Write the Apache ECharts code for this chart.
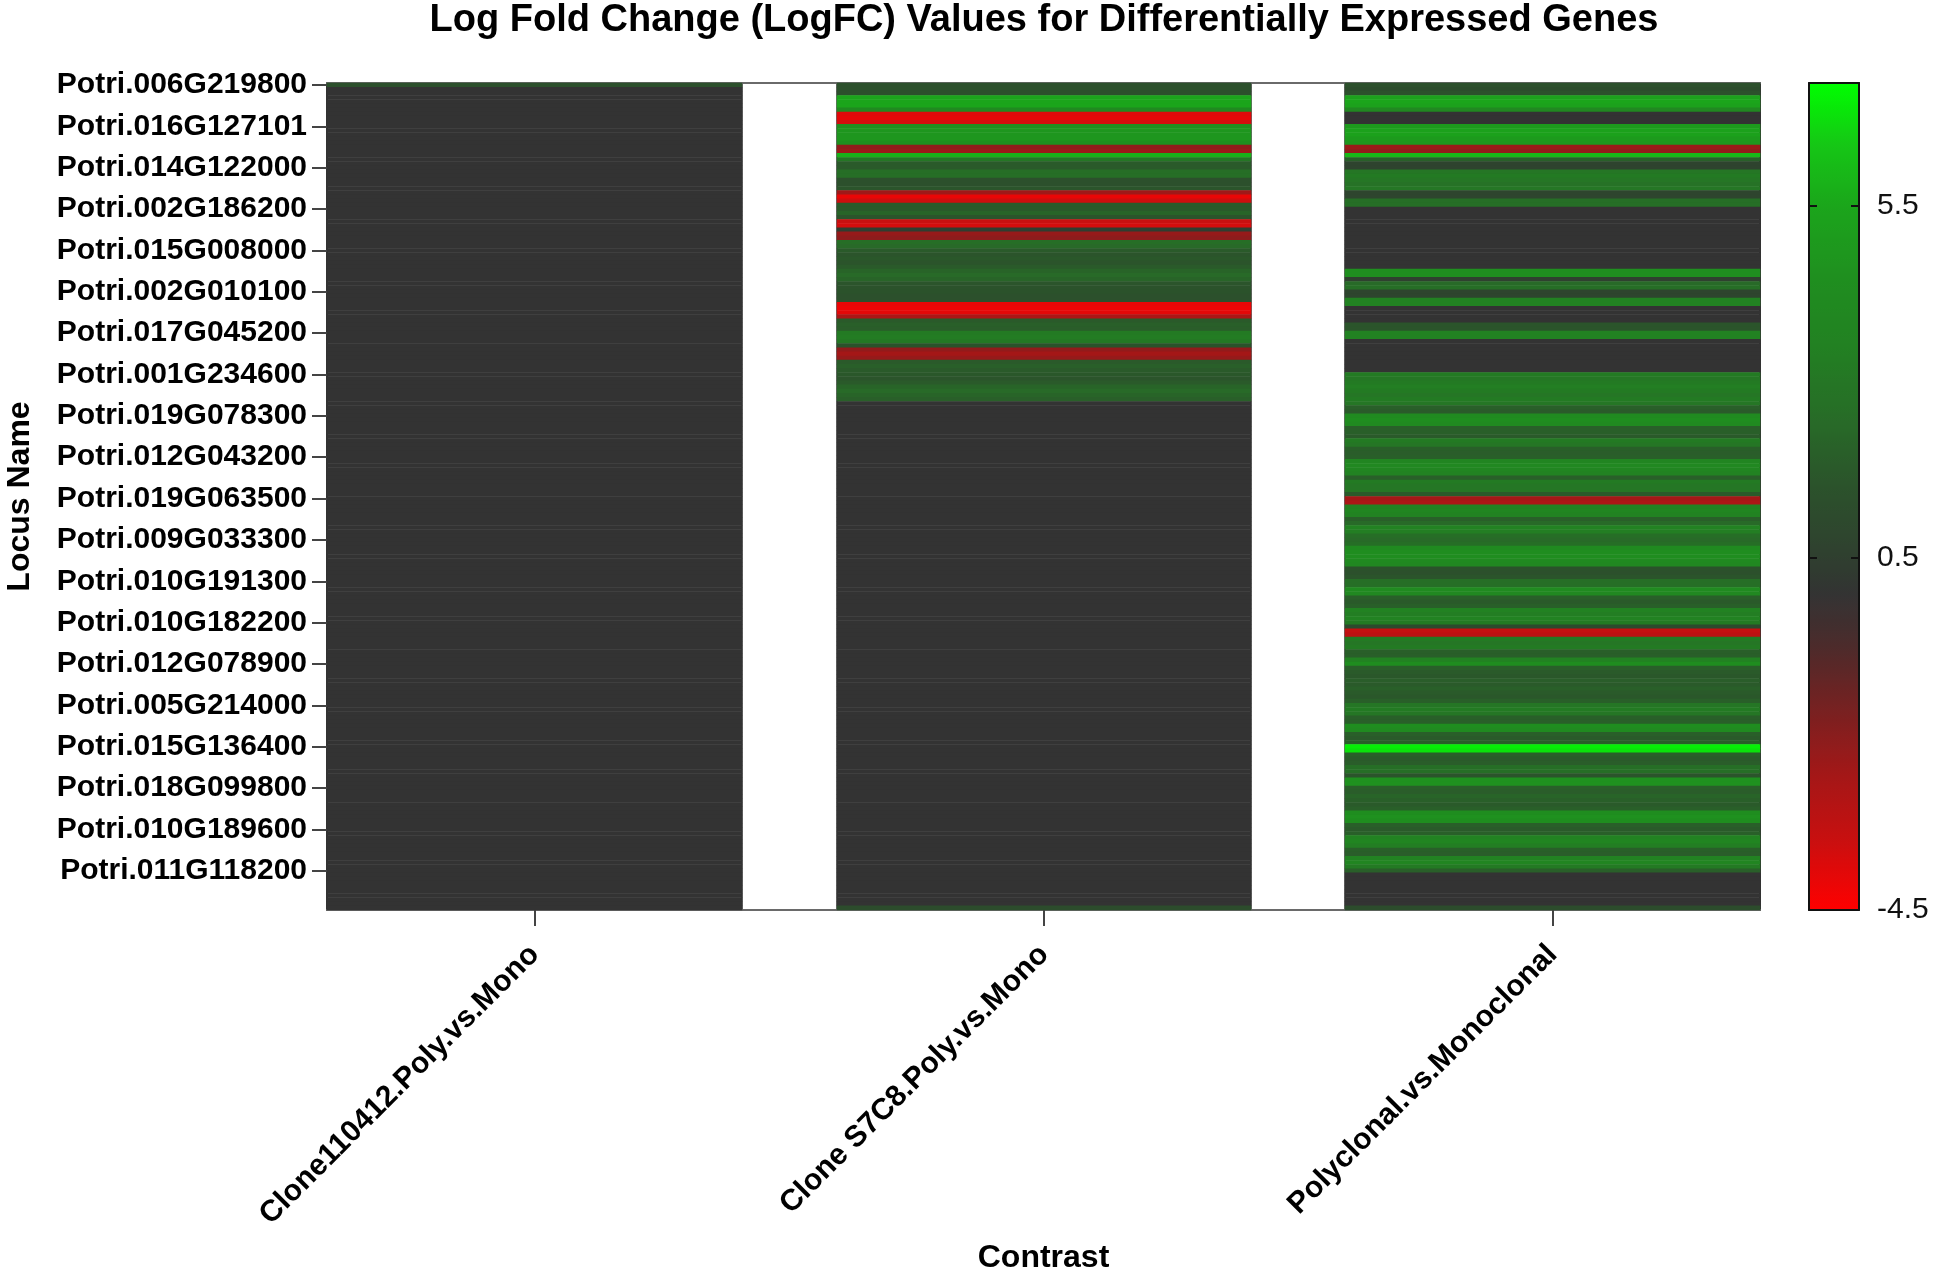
<!DOCTYPE html>
<html>
<head>
<meta charset="utf-8">
<title>LogFC heatmap</title>
<script src="https://cdn.jsdelivr.net/npm/echarts@6/dist/echarts.min.js"></script>
<style>
  html, body { margin: 0; padding: 0; background: #fff; }
  #chart { width: 1939px; height: 1279px; }
</style>
</head>
<body>
<div id="chart"></div>
<script>
// x categories (contrasts)
var contrasts = ['Clone110412.Poly.vs.Mono', 'Clone S7C8.Poly.vs.Mono', 'Polyclonal.vs.Monoclonal'];

// locus names shown on the axis, one every 10 rows (200 rows in total)
var locusLabels = [
  'Potri.006G219800', 'Potri.016G127101', 'Potri.014G122000', 'Potri.002G186200',
  'Potri.015G008000', 'Potri.002G010100', 'Potri.017G045200', 'Potri.001G234600',
  'Potri.019G078300', 'Potri.012G043200', 'Potri.019G063500', 'Potri.009G033300',
  'Potri.010G191300', 'Potri.010G182200', 'Potri.012G078900', 'Potri.005G214000',
  'Potri.015G136400', 'Potri.018G099800', 'Potri.010G189600', 'Potri.011G118200'
];
var rowsPerLabel = 10;

// logFC per row, one array per contrast (row 0 at the top)
var logfcClone110412 = [
  1.4, 0, 0, 0, 0, 0, 0, 0, 0, 0, 0, 0, 0, 0, 0, 0, 0, 0, 0, 0,
  0, 0, 0, 0, 0, 0, 0, 0, 0, 0, 0, 0, 0, 0, 0, 0, 0, 0, 0, 0,
  0, 0, 0, 0, 0, 0, 0, 0, 0, 0, 0, 0, 0, 0, 0, 0, 0, 0, 0, 0,
  0, 0, 0, 0, 0, 0, 0, 0, 0, 0, 0, 0, 0, 0, 0, 0, 0, 0, 0, 0,
  0, 0, 0, 0, 0, 0, 0, 0, 0, 0, 0, 0, 0, 0, 0, 0, 0, 0, 0, 0,
  0, 0, 0, 0, 0, 0, 0, 0, 0, 0, 0, 0, 0, 0, 0, 0, 0, 0, 0, 0,
  0, 0, 0, 0, 0, 0, 0, 0, 0, 0, 0, 0, 0, 0, 0, 0, 0, 0, 0, 0,
  0, 0, 0, 0, 0, 0, 0, 0, 0, 0, 0, 0, 0, 0, 0, 0, 0, 0, 0, 0,
  0, 0, 0, 0, 0, 0, 0, 0, 0, 0, 0, 0, 0, 0, 0, 0, 0, 0, 0, 0,
  0, 0, 0, 0, 0, 0, 0, 0, 0, 0, 0, 0, 0, 0, 0, 0, 0, 0, 0, 0
];
var logfcCloneS7C8 = [
  1.4, 1.4, 1.4, 5.5, 5.5, 5.5, 4.2, -3.9, -4.0, -3.7, 4.5, 4.8, 4.8, 4.8, 4.5, -2.2, -2.4, 5.8, 3.0, 1.8,
  1.8, 2.6, 2.6, 1.4, 1.4, 1.6, -2.5, -4.1, -3.6, 1.8, 1.8, 2.2, 1.6, -3.5, -3.7, 0.4, -2.3, -2.1, 2.6, 2.4,
  1.8, 1.6, 1.7, 1.6, 1.8, 2.2, 2.4, 2.2, 1.6, 1.5, 1.5, 1.4, 1.4, -4.1, -4.2, -4.0, -2.8, 1.8, 2.0, 1.9,
  3.2, 3.3, 3.1, 1.5, -2.2, -2.6, -2.3, 1.8, 2.0, 1.8, 1.7, 1.6, 1.8, 2.2, 2.4, 2.2, 2.0, 0, 0, 0,
  0, 0, 0, 0, 0, 0, 0, 0, 0, 0, 0, 0, 0, 0, 0, 0, 0, 0, 0, 0,
  0, 0, 0, 0, 0, 0, 0, 0, 0, 0, 0, 0, 0, 0, 0, 0, 0, 0, 0, 0,
  0, 0, 0, 0, 0, 0, 0, 0, 0, 0, 0, 0, 0, 0, 0, 0, 0, 0, 0, 0,
  0, 0, 0, 0, 0, 0, 0, 0, 0, 0, 0, 0, 0, 0, 0, 0, 0, 0, 0, 0,
  0, 0, 0, 0, 0, 0, 0, 0, 0, 0, 0, 0, 0, 0, 0, 0, 0, 0, 0, 0,
  0, 0, 0, 0, 0, 0, 0, 0, 0, 0, 0, 0, 0, 0, 0, 0, 0, 0, 0, 1.2
];
var logfcPolyMono = [
  1.4, 1.2, 1.4, 5.3, 5.5, 5.3, 4.0, 0, 0, 0, 5.0, 5.3, 5.3, 5.0, 4.8, -2.4, -2.2, 6.0, 2.0, 0.7,
  0.7, 3.0, 3.2, 3.0, 2.8, 3.0, 0.8, 0.8, 2.6, 2.6, 0, 0, 0, 0, 0, 0, 0, 0, 0, 0,
  0, 0, 0, 0, 0, 4.5, 4.5, 0.6, 2.4, 2.6, 0.8, 0.8, 3.6, 3.6, 0, 0, 0, 0, 1.6, 1.6,
  3.6, 3.6, 0, 0, 0, 0, 0, 0, 0, 0, 3.2, 3.0, 3.2, 3.4, 3.2, 3.0, 3.2, 3.0, 2.0, 1.8,
  4.2, 4.4, 4.2, 2.0, 2.0, 1.8, 3.2, 3.0, 2.0, 1.9, 2.0, 3.8, 4.0, 3.8, 3.6, 2.0, 3.2, 3.0, 3.0, 1.8,
  -2.6, -2.8, 3.6, 3.8, 3.6, 2.0, 2.4, 3.6, 3.4, 2.6, 2.4, 2.6, 4.2, 4.4, 4.4, 4.2, 4.0, 1.5, 1.4, 1.6,
  2.6, 2.6, 4.2, 4.0, 2.0, 1.8, 2.0, 3.6, 3.4, 3.6, 3.2, 1.0, -3.4, -3.2, 3.2, 3.0, 3.2, 2.0, 2.0, 3.6,
  4.4, 2.0, 1.8, 1.7, 1.9, 1.8, 2.0, 1.8, 1.7, 2.0, 3.0, 3.2, 3.0, 2.0, 2.0, 4.4, 4.2, 2.0, 1.8, 2.0,
  7.0, 6.8, 2.0, 1.8, 1.9, 2.6, 2.6, 1.6, 4.6, 4.6, 2.0, 1.9, 2.2, 2.0, 1.8, 2.0, 4.4, 4.6, 4.4, 2.0,
  1.8, 2.0, 3.6, 3.8, 3.4, 2.0, 1.9, 3.6, 3.8, 3.2, 2.0, 0, 0, 0, 0, 0, 0, 0, 0, 1.2
];

// colour scale
var scaleMin = -4.5;
var scaleMax = 7.25;
var scaleTicks = 5;

var colorStops = [
  [-4.5, '#ff0000'], [-3.5, '#c81010'], [-2.5, '#a01818'], [-1.5, '#702222'],
  [-0.7, '#4a2c2c'], [0, '#333333'], [0.5, '#2f3f2f'], [1.5, '#2b522b'],
  [2.5, '#276c27'], [3.5, '#228022'], [4.5, '#1f8f1f'], [5.5, '#1ba51b'],
  [6.4, '#15c815'], [7.25, '#00ff00']
];

function hexToRgb(h) {
  return [parseInt(h.substr(1, 2), 16), parseInt(h.substr(3, 2), 16), parseInt(h.substr(5, 2), 16)];
}
function colorAt(v) {
  for (var i = 0; i < colorStops.length - 1; i++) {
    var a = colorStops[i], b = colorStops[i + 1];
    if (v <= b[0]) {
      var t = (v - a[0]) / (b[0] - a[0]);
      var ca = hexToRgb(a[1]), cb = hexToRgb(b[1]);
      return 'rgb(' + [0, 1, 2].map(function (k) { return Math.round(ca[k] + (cb[k] - ca[k]) * t); }).join(',') + ')';
    }
  }
  return colorStops[colorStops.length - 1][1];
}
var rampColors = [];
for (var s = 0; s <= 94; s++) {
  rampColors.push(colorAt(scaleMin + (scaleMax - scaleMin) * s / 94));
}

var nRows = logfcPolyMono.length;
var loci = [];
for (var r = 0; r < nRows; r++) {
  loci.push(r % rowsPerLabel === 0 ? locusLabels[r / rowsPerLabel] : '');
}
var showRow = function (idx) { return idx % rowsPerLabel === 0; };

var columns = [logfcClone110412, logfcCloneS7C8, logfcPolyMono];
function toCells(vals) {
  return vals.map(function (v, i) { return [0, i, v]; });
}

var FONT = '"Liberation Sans", Arial, sans-serif';
var LINE = '#6a6a6a';

var plotTop = 83, plotH = 827;
var colLeft = [327, 837, 1345], colW = [415, 414, 415];

var chart = echarts.init(document.getElementById('chart'));

var grids = [], xAxes = [], yAxes = [], series = [];
function makeGrid(left, width) {
  return { left: left, top: plotTop, width: width, height: plotH, containLabel: false, outerBoundsMode: 'none' };
}

columns.forEach(function (vals, c) {
  grids.push(makeGrid(colLeft[c], colW[c]));
  xAxes.push({
    type: 'category', gridIndex: c, data: [contrasts[c]],
    axisLine: { show: false },
    axisTick: { show: true, alignWithLabel: true, length: 16, lineStyle: { color: '#444', width: 2 } },
    axisLabel: { rotate: 45, margin: 40, fontSize: 30, fontWeight: 'bold', color: '#000', fontFamily: FONT }
  });
  yAxes.push({
    type: 'category', gridIndex: c, data: loci, inverse: true,
    name: c === 0 ? 'Locus Name' : '',
    nameLocation: 'middle', nameGap: 291, nameRotate: 90, nameMoveOverlap: false,
    nameTextStyle: { fontSize: 32, fontWeight: 'bold', color: '#000', fontFamily: FONT },
    axisLine: { show: true, lineStyle: { color: c === 0 ? '#333' : LINE, width: 2 } },
    axisTick: { show: c === 0, interval: showRow, alignWithLabel: true, length: 15, lineStyle: { color: '#444', width: 2 } },
    axisLabel: { show: c === 0, interval: showRow, margin: 20, fontSize: 30, fontWeight: 'bold', color: '#000', fontFamily: FONT },
    splitLine: { show: false }
  });
  series.push({
    type: 'heatmap', xAxisIndex: c, yAxisIndex: c,
    data: toCells(vals),
    emphasis: { disabled: true }
  });
});

// right edges of the three columns
columns.forEach(function (vals, c) {
  yAxes.push({
    type: 'value', gridIndex: c, position: 'right', min: 0, max: 1,
    axisLine: { show: true, onZero: false, lineStyle: { color: c === 2 ? '#333' : LINE, width: 2 } },
    axisTick: { show: false }, axisLabel: { show: false }, splitLine: { show: false }
  });
});

// frame across all columns (top & bottom lines, "Contrast" title)
grids.push(makeGrid(327, 1433));
var frameAxis = function (pos, name) {
  return {
    type: 'value', gridIndex: 3, position: pos, min: 0, max: 1,
    name: name, nameLocation: 'middle', nameGap: 332, nameMoveOverlap: false,
    nameTextStyle: { fontSize: 32, fontWeight: 'bold', color: '#000', fontFamily: FONT },
    axisLine: { show: true, onZero: false, lineStyle: { color: LINE, width: 2 } },
    axisTick: { show: false }, axisLabel: { show: false }, splitLine: { show: false }
  };
};
xAxes.push(frameAxis('bottom', 'Contrast'));
xAxes.push(frameAxis('top', ''));
yAxes.push({ type: 'value', gridIndex: 3, show: false, min: 0, max: 1 });

// colour bar frame and its scale (drawn above the visualMap bar)
grids.push(makeGrid(1809, 50));
var barEdge = function (pos) {
  return {
    type: 'value', gridIndex: 4, position: pos, min: 0, max: 1, z: 10,
    axisLine: { show: true, onZero: false, lineStyle: { color: '#111', width: 2 } },
    axisTick: { show: false }, axisLabel: { show: false }, splitLine: { show: false }
  };
};
xAxes.push(barEdge('bottom'));
xAxes.push(barEdge('top'));
yAxes.push({
  type: 'value', gridIndex: 4, position: 'right', z: 10,
  min: scaleMin, max: scaleMax, interval: scaleTicks,
  axisLine: { show: true, onZero: false, lineStyle: { color: '#111', width: 2 } },
  axisTick: { show: true, inside: true, length: 8, lineStyle: { color: '#111', width: 2 } },
  axisLabel: { show: true, showMaxLabel: false, margin: 18, fontSize: 30, color: '#111', fontFamily: FONT },
  splitLine: { show: false }
});
yAxes.push({
  type: 'value', gridIndex: 4, position: 'left', z: 10,
  min: scaleMin, max: scaleMax, interval: scaleTicks,
  axisLine: { show: true, onZero: false, lineStyle: { color: '#111', width: 2 } },
  axisTick: { show: true, inside: true, length: 8, lineStyle: { color: '#111', width: 2 } },
  axisLabel: { show: false }, splitLine: { show: false }
});

var option = {
  backgroundColor: '#ffffff',
  animation: false,
  title: {
    text: 'Log Fold Change (LogFC) Values for Differentially Expressed Genes',
    left: 1044, top: 2, textAlign: 'center', padding: 0,
    textStyle: { fontSize: 38, fontWeight: 'bold', color: '#000', fontFamily: FONT }
  },
  tooltip: { show: false },
  visualMap: {
    type: 'continuous',
    min: scaleMin, max: scaleMax,
    seriesIndex: [0, 1, 2],
    dimension: 2,
    calculable: false,
    hoverLink: false,
    orient: 'vertical',
    left: 1809, top: plotTop,
    itemWidth: 50, itemHeight: plotH,
    padding: 0,
    text: null,
    z: 1,
    inRange: { color: rampColors }
  },
  grid: grids,
  xAxis: xAxes,
  yAxis: yAxes,
  series: series
};

chart.setOption(option);
</script>
</body>
</html>
